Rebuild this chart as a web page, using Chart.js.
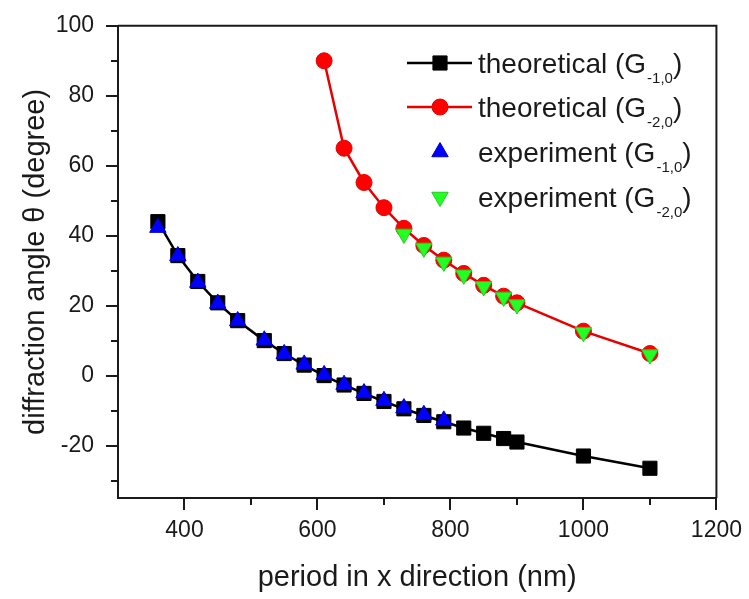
<!DOCTYPE html>
<html>
<head>
<meta charset="utf-8">
<script src="https://cdn.jsdelivr.net/npm/chart.js@4/dist/chart.umd.min.js"></script>
<style>
  body { margin: 0; background: #fff; }
  #wrap { width: 749px; height: 599px; }
</style>
</head>
<body>
<div id="wrap"><canvas id="angleChart" width="749" height="599"></canvas></div>
<script>
// periods (nm) and diffraction angles (degree)
var periodTheo1 = [360, 390, 420, 450, 480, 520, 550, 580, 610, 640, 670, 700, 730, 760, 790, 820, 850, 880, 900, 1000, 1100];
var angleTheo1 = [44, 34.3, 26.9, 20.8, 15.7, 10, 6.3, 3, 0, -2.7, -5.1, -7.4, -9.5, -11.4, -13.2, -15, -16.5, -18, -19, -23, -26.5];

var periodTheo2 = [610, 640, 670, 700, 730, 760, 790, 820, 850, 880, 900, 1000, 1100];
var angleTheo2 = [90, 65, 55.2, 48, 42.1, 37.2, 33, 29.2, 25.8, 22.7, 20.8, 12.7, 6.3];

var periodExp1 = [360, 390, 420, 450, 480, 520, 550, 580, 610, 640, 670, 700, 730, 760, 790];
var angleExp1 = [42.3, 34.2, 26.6, 20.6, 15.6, 10.1, 6.2, 3.2, 0.2, -2.6, -5, -7.2, -9.3, -11.2, -12.8];

var periodExp2 = [730, 760, 790, 820, 850, 880, 900, 1000, 1100];
var angleExp2 = [40.5, 36.5, 32.5, 28.8, 25.5, 22.5, 20.3, 12.4, 6];

// axis ticks
var xTickLabels = [400, 600, 800, 1000, 1200];
var xMinorTicks = [500, 700, 900, 1100];
var yTickLabels = [-20, 0, 20, 40, 60, 80, 100];
var yMinorTicks = [-30, -10, 10, 30, 50, 70, 90];

// legend texts
var legendNames = ['theoretical', 'theoretical', 'experiment', 'experiment'];
var legendOrders = ['-1,0', '-2,0', '-1,0', '-2,0'];

function toPoints(xs, ys) {
    return xs.map(function (x, i) { return {x: x, y: ys[i]}; });
}

var fontFamily = '"Liberation Sans", Arial, sans-serif';
var ink = '#1a1a1a';

var styles = [
    {line: '#000000', fill: '#000000', style: 'rect', radius: 10, rotation: 0, showLine: true},
    {line: '#e80000', fill: '#ff0000', style: 'circle', radius: 8, rotation: 0, showLine: true},
    {line: '#0000c8', fill: '#0000ff', style: 'triangle', radius: 9.5, rotation: 0, showLine: false},
    {line: '#22cc22', fill: '#22ff22', style: 'triangle', radius: 9.5, rotation: 180, showLine: false}
];

function drawMarker(ctx, s, x, y) {
    ctx.save();
    ctx.translate(x, y);
    ctx.rotate(s.rotation * Math.PI / 180);
    ctx.fillStyle = s.fill;
    ctx.strokeStyle = s.line;
    ctx.lineWidth = 1;
    ctx.beginPath();
    if (s.style === 'rect') {
        var h = Math.SQRT1_2 * s.radius;
        ctx.rect(-h, -h, 2 * h, 2 * h);
    } else if (s.style === 'circle') {
        ctx.arc(0, 0, s.radius, 0, Math.PI * 2);
    } else {
        for (var k = 0; k < 3; k++) {
            var a = k * 2 * Math.PI / 3;
            ctx.lineTo(Math.sin(a) * s.radius, -Math.cos(a) * s.radius);
        }
        ctx.closePath();
    }
    ctx.fill();
    ctx.stroke();
    ctx.restore();
}

// frame, minor ticks and legend with subscripts
var decorPlugin = {
    id: 'decor',
    afterDraw: function (chart) {
        var ctx = chart.ctx;
        var area = chart.chartArea;
        var xs = chart.scales.x, ys = chart.scales.y;
        ctx.save();
        ctx.strokeStyle = ink;
        ctx.lineWidth = 2;
        ctx.beginPath();
        ctx.moveTo(area.left, area.top);
        ctx.lineTo(area.right, area.top);
        ctx.lineTo(area.right, area.bottom);
        ctx.stroke();

        ctx.beginPath();
        xMinorTicks.forEach(function (v) {
            var px = Math.round(xs.getPixelForValue(v));
            ctx.moveTo(px, area.bottom);
            ctx.lineTo(px, area.bottom + 7);
        });
        yMinorTicks.forEach(function (v) {
            var py = Math.round(ys.getPixelForValue(v));
            ctx.moveTo(area.left, py);
            ctx.lineTo(area.left - 7, py);
        });
        ctx.stroke();

        // legend
        var rowY = [63, 107, 152, 197];
        for (var i = 0; i < 4; i++) {
            var s = styles[i];
            var y = rowY[i];
            if (s.showLine) {
                ctx.strokeStyle = s.line;
                ctx.lineWidth = 2.5;
                ctx.beginPath();
                ctx.moveTo(407, y);
                ctx.lineTo(472, y);
                ctx.stroke();
            }
            drawMarker(ctx, s, 440, y);
            ctx.fillStyle = ink;
            ctx.textBaseline = 'alphabetic';
            ctx.textAlign = 'left';
            ctx.font = '28px ' + fontFamily;
            var tx = 478;
            var main = legendNames[i] + ' (G';
            ctx.fillText(main, tx, y + 10);
            tx += ctx.measureText(main).width + 1;
            ctx.font = '15px ' + fontFamily;
            ctx.fillText(legendOrders[i], tx, y + 20);
            tx += ctx.measureText(legendOrders[i]).width;
            ctx.font = '28px ' + fontFamily;
            ctx.fillText(')', tx, y + 10);
        }
        ctx.restore();
    }
};

var ctx = document.getElementById('angleChart');

function makeSet(label, pts, i, order) {
    var s = styles[i];
    return {
        label: label,
        data: pts,
        showLine: s.showLine,
        borderColor: s.line,
        borderWidth: 2.5,
        backgroundColor: s.fill,
        pointStyle: s.style,
        pointRadius: s.radius,
        pointRotation: s.rotation,
        pointBorderColor: s.line,
        pointBorderWidth: 1,
        pointBackgroundColor: s.fill,
        tension: 0,
        order: order
    };
}

function plainLabel(value) {
    return String(value);
}

new Chart(ctx, {
    type: 'scatter',
    data: {
        datasets: [
            makeSet('theoretical (G-1,0)', toPoints(periodTheo1, angleTheo1), 0, 4),
            makeSet('theoretical (G-2,0)', toPoints(periodTheo2, angleTheo2), 1, 3),
            makeSet('experiment (G-1,0)', toPoints(periodExp1, angleExp1), 2, 2),
            makeSet('experiment (G-2,0)', toPoints(periodExp2, angleExp2), 3, 1)
        ]
    },
    options: {
        responsive: false,
        animation: false,
        layout: {padding: {top: 25, right: 32, left: 0, bottom: 0}},
        plugins: {
            legend: {display: false},
            tooltip: {enabled: false}
        },
        scales: {
            x: {
                type: 'linear',
                min: 300,
                max: 1200,
                afterBuildTicks: function (scale) {
                    scale.ticks = xTickLabels.map(function (v) { return {value: v}; });
                },
                afterFit: function (scale) { scale.height = 101; },
                grid: {drawOnChartArea: false, tickLength: 12, color: ink, lineWidth: 2},
                border: {display: true, color: ink, width: 2},
                ticks: {color: ink, padding: 7, maxRotation: 0, callback: plainLabel,
                    font: {family: fontFamily, size: 23}},
                title: {
                    display: true,
                    text: 'period in x direction (nm)',
                    color: ink,
                    padding: 4,
                    font: {family: fontFamily, size: 29}
                }
            },
            y: {
                type: 'linear',
                min: -35,
                max: 100,
                afterBuildTicks: function (scale) {
                    scale.ticks = yTickLabels.map(function (v) { return {value: v}; });
                },
                afterFit: function (scale) { scale.width = 118; },
                grid: {drawOnChartArea: false, tickLength: 12, color: ink, lineWidth: 2},
                border: {display: true, color: ink, width: 2},
                ticks: {color: ink, padding: 12, callback: plainLabel,
                    font: {family: fontFamily, size: 23}},
                title: {
                    display: true,
                    text: 'diffraction angle θ (degree)',
                    color: ink,
                    padding: 19,
                    font: {family: fontFamily, size: 29}
                }
            }
        }
    },
    plugins: [decorPlugin]
});
</script>
</body>
</html>
